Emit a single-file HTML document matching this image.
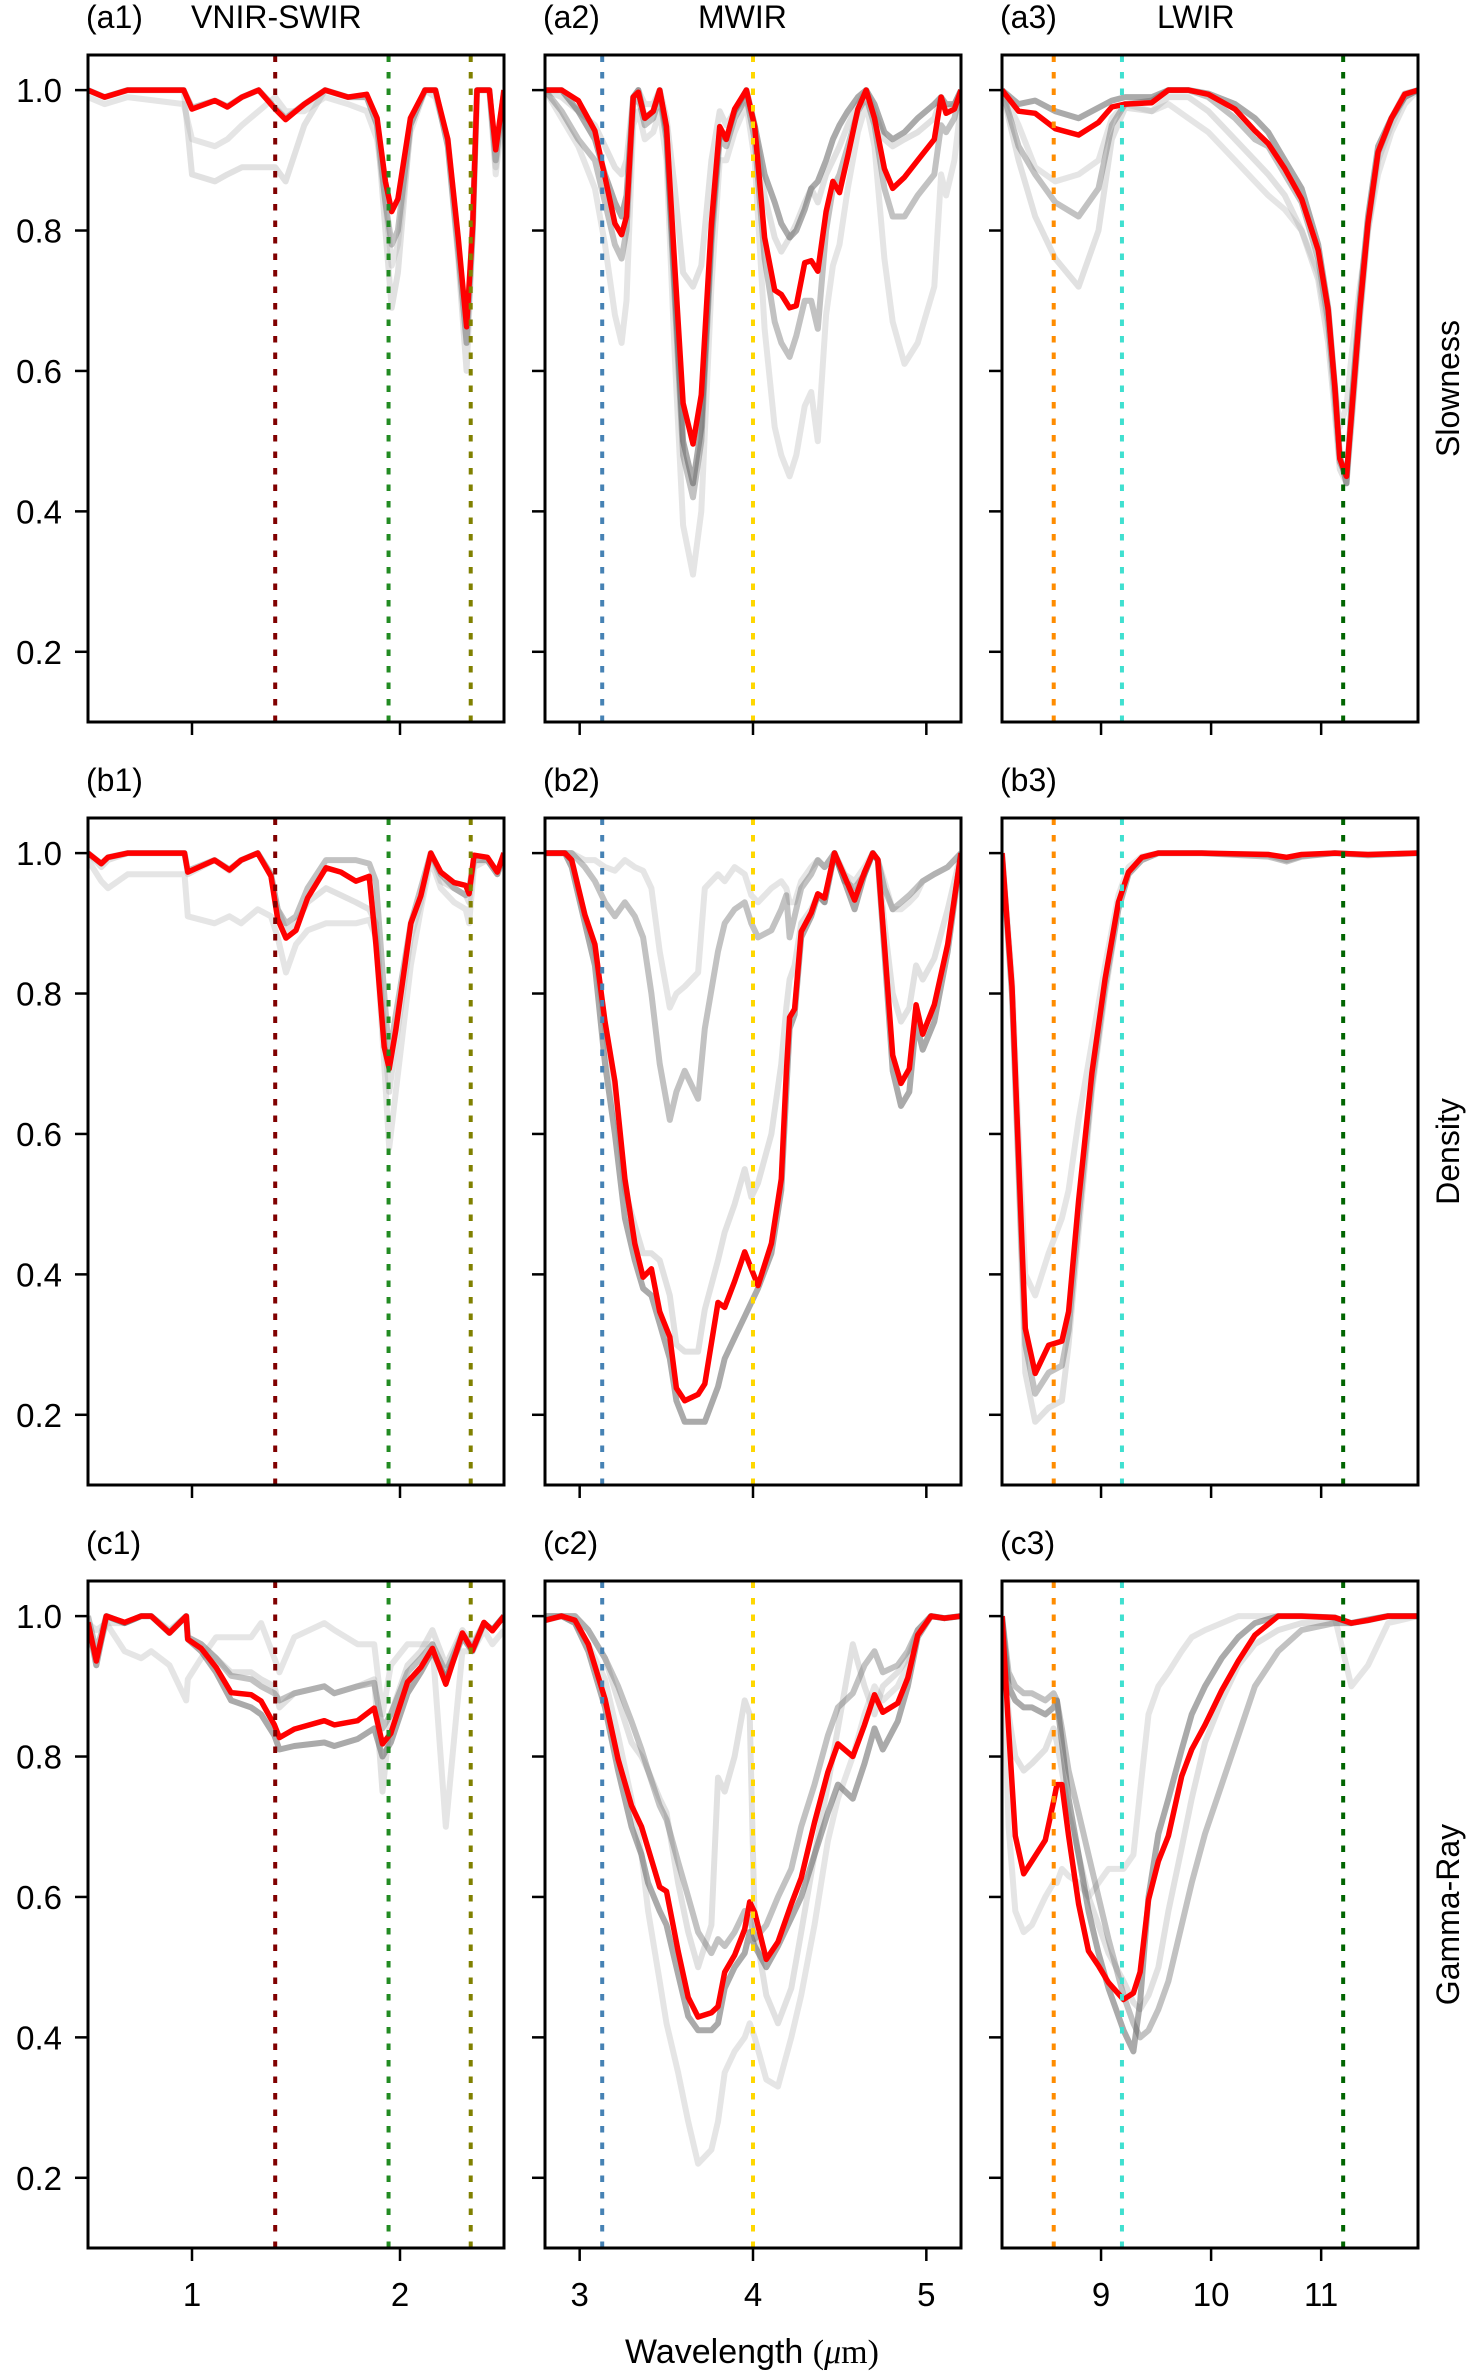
<!DOCTYPE html>
<html><head><meta charset="utf-8">
<style>
html,body{margin:0;padding:0;background:#fff;}
svg{display:block;font-family:"Liberation Sans","DejaVu Sans",sans-serif;}
</style></head>
<body>
<svg id="fig" width="1474" height="2374" viewBox="0 0 1474 2374" xmlns="http://www.w3.org/2000/svg"></svg>
<script>
// ---- data ----
const xA1=[0.5,0.58,0.69,0.96,1.0,1.11,1.17,1.24,1.32,1.4,1.45,1.54,1.64,1.75,1.84,1.89,1.93,1.96,1.99,2.05,2.12,2.17,2.23,2.28,2.32,2.35,2.37,2.43,2.46,2.5];
const redA1=[1.0,0.99,1.0,1.0,0.973,0.985,0.976,0.99,1.0,0.973,0.958,0.98,1.0,0.99,0.994,0.96,0.87,0.827,0.845,0.96,1.0,1.0,0.93,0.79,0.663,0.81,1.0,1.0,0.915,1.0];
const greyA1a=[1.0,0.99,1.0,1.0,0.88,0.87,0.88,0.89,0.89,0.89,0.87,0.95,1.0,0.99,0.99,0.95,0.80,0.69,0.74,0.95,1.0,1.0,0.92,0.76,0.60,0.80,1.0,1.0,0.89,1.0];
const greyA1b=[0.99,0.98,0.99,0.98,0.93,0.92,0.93,0.95,0.97,0.99,0.97,0.97,0.99,0.98,0.97,0.93,0.84,0.75,0.78,0.94,1.0,0.99,0.93,0.78,0.64,0.82,1.0,1.0,0.88,0.98];
const greyA1c=[1.0,0.99,1.0,1.0,0.975,0.985,0.977,0.99,1.0,0.975,0.96,0.98,1.0,0.99,0.99,0.95,0.84,0.78,0.80,0.95,1.0,1.0,0.92,0.77,0.64,0.80,1.0,1.0,0.9,1.0];

const xA2=[2.8,2.896,2.992,3.088,3.146,3.203,3.242,3.27,3.309,3.338,3.376,3.424,3.462,3.501,3.549,3.597,3.654,3.702,3.76,3.808,3.846,3.894,3.962,4.01,4.067,4.125,4.163,4.211,4.25,4.298,4.336,4.374,4.422,4.461,4.499,4.547,4.605,4.653,4.701,4.758,4.806,4.874,4.95,5.046,5.085,5.114,5.162,5.2];
const redA2=[1.0,1.0,0.985,0.942,0.876,0.81,0.794,0.82,0.99,0.997,0.96,0.97,1.0,0.948,0.748,0.554,0.496,0.566,0.81,0.948,0.93,0.973,1.0,0.948,0.79,0.715,0.709,0.69,0.693,0.754,0.757,0.742,0.827,0.87,0.854,0.906,0.973,1.0,0.96,0.888,0.86,0.876,0.9,0.93,0.99,0.967,0.973,1.0];
const greyA2a=[1.0,1.0,0.97,0.93,0.88,0.84,0.82,0.85,0.99,1.0,0.96,0.97,1.0,0.94,0.72,0.50,0.44,0.52,0.80,0.94,0.93,0.97,1.0,0.95,0.88,0.84,0.81,0.79,0.80,0.83,0.86,0.87,0.90,0.93,0.95,0.97,0.99,1.0,0.98,0.94,0.93,0.94,0.96,0.98,0.99,0.98,0.98,1.0];
const greyA2b=[1.0,0.97,0.93,0.90,0.84,0.78,0.76,0.80,0.98,0.99,0.95,0.96,0.99,0.93,0.70,0.48,0.42,0.50,0.78,0.93,0.92,0.96,0.99,0.93,0.76,0.67,0.64,0.62,0.65,0.70,0.70,0.66,0.80,0.86,0.88,0.92,0.97,0.99,0.95,0.86,0.82,0.82,0.85,0.88,0.95,0.94,0.96,1.0];
const greyA2c=[1.0,0.96,0.92,0.86,0.78,0.68,0.64,0.70,0.95,0.97,0.93,0.94,0.97,0.90,0.62,0.38,0.31,0.40,0.72,0.90,0.90,0.94,0.98,0.90,0.66,0.52,0.48,0.45,0.48,0.55,0.57,0.50,0.68,0.75,0.78,0.86,0.94,0.98,0.92,0.76,0.67,0.61,0.64,0.72,0.88,0.85,0.90,0.98];
const greyA2d=[1.0,0.99,0.97,0.95,0.92,0.89,0.88,0.90,0.99,1.0,0.98,0.98,1.0,0.96,0.86,0.74,0.72,0.75,0.90,0.97,0.95,0.97,0.99,0.95,0.85,0.79,0.77,0.79,0.81,0.84,0.86,0.84,0.88,0.9,0.92,0.95,0.98,1.0,0.97,0.93,0.92,0.93,0.94,0.96,0.99,0.97,0.98,1.0];

const xA3=[8.1,8.251,8.402,8.584,8.796,8.977,9.098,9.219,9.461,9.612,9.793,9.975,10.217,10.398,10.519,10.67,10.822,10.973,11.064,11.124,11.169,11.23,11.275,11.351,11.426,11.517,11.638,11.759,11.88];
const redA3=[1.0,0.97,0.967,0.945,0.936,0.954,0.976,0.98,0.982,1.0,1.0,0.994,0.973,0.942,0.924,0.888,0.845,0.772,0.687,0.578,0.475,0.45,0.536,0.687,0.81,0.912,0.96,0.994,1.0];
const greyA3a=[1.0,0.90,0.82,0.76,0.72,0.80,0.93,0.975,0.97,0.99,0.99,0.97,0.93,0.90,0.88,0.85,0.80,0.73,0.64,0.54,0.46,0.44,0.52,0.67,0.80,0.90,0.95,0.99,1.0];
const greyA3b=[1.0,0.92,0.88,0.84,0.82,0.86,0.95,0.98,0.985,1.0,1.0,0.99,0.96,0.93,0.92,0.88,0.84,0.76,0.67,0.56,0.47,0.45,0.53,0.68,0.81,0.91,0.96,0.995,1.0];
const greyA3c=[1.0,0.95,0.89,0.87,0.88,0.90,0.96,0.98,0.97,0.98,0.96,0.94,0.90,0.87,0.85,0.83,0.80,0.74,0.66,0.58,0.52,0.55,0.62,0.72,0.80,0.88,0.94,0.98,1.0];
const greyA3d=[1.0,0.98,0.985,0.97,0.96,0.975,0.985,0.99,0.99,1.0,1.0,0.995,0.98,0.96,0.94,0.9,0.86,0.78,0.69,0.58,0.48,0.44,0.55,0.7,0.82,0.92,0.96,0.99,1.0];

const xB1=[0.5,0.564,0.596,0.692,0.964,0.98,1.108,1.18,1.236,1.316,1.38,1.412,1.452,1.5,1.556,1.644,1.716,1.788,1.852,1.884,1.924,1.948,1.98,2.052,2.1,2.148,2.196,2.26,2.316,2.332,2.356,2.42,2.468,2.5];
const redB1=[1.0,0.985,0.994,1.0,1.0,0.973,0.99,0.976,0.99,1.0,0.967,0.906,0.879,0.89,0.936,0.979,0.973,0.96,0.967,0.87,0.724,0.693,0.748,0.9,0.939,1.0,0.973,0.958,0.954,0.942,0.997,0.994,0.973,1.0];
const greyB1a=[0.99,0.96,0.95,0.97,0.97,0.91,0.9,0.91,0.9,0.92,0.91,0.88,0.83,0.87,0.89,0.9,0.9,0.9,0.905,0.88,0.70,0.58,0.66,0.84,0.92,0.99,0.95,0.93,0.92,0.90,0.98,0.99,0.97,0.99];
const greyB1b=[1.0,0.98,0.99,1.0,1.0,0.97,0.99,0.975,0.99,1.0,0.97,0.92,0.89,0.9,0.93,0.95,0.94,0.93,0.92,0.90,0.74,0.66,0.73,0.88,0.93,1.0,0.96,0.95,0.94,0.93,0.99,0.99,0.97,1.0];
const greyB1c=[1.0,0.985,0.994,1.0,1.0,0.975,0.99,0.977,0.99,1.0,0.97,0.92,0.9,0.91,0.95,0.99,0.99,0.99,0.985,0.96,0.80,0.71,0.77,0.90,0.95,1.0,0.97,0.95,0.94,0.95,0.99,0.99,0.97,1.0];

const xB2=[2.8,2.915,2.954,3.03,3.088,3.146,3.203,3.261,3.318,3.366,3.414,3.462,3.52,3.558,3.606,3.683,3.722,3.798,3.837,3.894,3.952,3.99,4.029,4.106,4.163,4.192,4.211,4.24,4.278,4.336,4.374,4.413,4.47,4.528,4.586,4.643,4.691,4.72,4.758,4.806,4.854,4.902,4.941,4.979,5.046,5.123,5.2];
const redB2=[1.0,1.0,0.99,0.912,0.87,0.76,0.675,0.536,0.444,0.396,0.408,0.347,0.311,0.238,0.22,0.229,0.244,0.36,0.353,0.39,0.432,0.408,0.384,0.444,0.536,0.687,0.766,0.778,0.888,0.915,0.942,0.936,1.0,0.967,0.933,0.973,1.0,0.991,0.87,0.712,0.672,0.693,0.784,0.742,0.784,0.87,1.0];
const greyB2a=[1.0,1.0,0.98,0.90,0.84,0.70,0.60,0.48,0.42,0.38,0.37,0.33,0.28,0.22,0.19,0.19,0.19,0.24,0.28,0.31,0.34,0.36,0.38,0.43,0.52,0.66,0.75,0.77,0.88,0.91,0.94,0.93,1.0,0.96,0.92,0.97,1.0,0.99,0.86,0.69,0.64,0.66,0.76,0.72,0.76,0.86,1.0];
const greyB2b=[1.0,1.0,1.0,0.98,0.96,0.93,0.91,0.93,0.91,0.88,0.80,0.70,0.62,0.66,0.69,0.65,0.75,0.86,0.90,0.92,0.93,0.90,0.88,0.89,0.92,0.94,0.88,0.91,0.95,0.97,0.99,0.98,1.0,0.96,0.95,0.97,1.0,0.99,0.95,0.92,0.93,0.94,0.95,0.96,0.97,0.98,1.0];
const greyB2c=[1.0,1.0,1.0,0.99,0.99,0.98,0.975,0.99,0.98,0.975,0.95,0.86,0.78,0.80,0.81,0.83,0.95,0.97,0.96,0.98,0.97,0.94,0.93,0.95,0.96,0.95,0.93,0.93,0.96,0.98,0.99,0.98,1.0,0.97,0.96,0.98,1.0,0.99,0.96,0.92,0.92,0.93,0.94,0.96,0.97,0.98,1.0];
const greyB2d=[1.0,1.0,0.99,0.91,0.86,0.75,0.66,0.52,0.47,0.43,0.43,0.42,0.37,0.30,0.29,0.29,0.35,0.42,0.46,0.50,0.55,0.51,0.53,0.60,0.70,0.78,0.82,0.84,0.90,0.92,0.94,0.93,1.0,0.97,0.94,0.97,1.0,0.99,0.90,0.80,0.76,0.78,0.84,0.82,0.85,0.92,1.0];

const xB3=[8.1,8.191,8.251,8.312,8.402,8.523,8.644,8.705,8.796,8.917,9.037,9.158,9.249,9.37,9.521,9.914,10.519,10.686,10.822,11.124,11.426,11.88];
const redB3=[1.0,0.81,0.566,0.323,0.259,0.299,0.305,0.347,0.505,0.687,0.821,0.93,0.973,0.994,1.0,1.0,0.998,0.994,0.998,1.0,0.998,1.0];
const greyB3a=[1.0,0.82,0.6,0.40,0.37,0.43,0.48,0.52,0.62,0.73,0.84,0.94,0.98,0.995,1.0,1.0,0.998,0.99,0.996,1.0,0.998,1.0];
const greyB3b=[1.0,0.80,0.55,0.30,0.23,0.26,0.27,0.32,0.48,0.67,0.81,0.92,0.97,0.99,1.0,1.0,0.995,0.988,0.995,1.0,0.997,1.0];
const greyB3c=[1.0,0.80,0.54,0.26,0.19,0.21,0.22,0.30,0.46,0.66,0.80,0.92,0.97,0.99,1.0,1.0,0.997,0.99,0.996,1.0,0.997,1.0];

const xC1=[0.5,0.54,0.588,0.676,0.756,0.804,0.892,0.972,0.98,1.044,1.116,1.188,1.284,1.332,1.396,1.42,1.492,1.636,1.684,1.796,1.876,1.916,1.956,2.036,2.1,2.156,2.22,2.3,2.348,2.404,2.444,2.5];
const redC1=[0.991,0.936,1.0,0.991,1.0,1.0,0.976,1.0,0.967,0.954,0.927,0.891,0.888,0.879,0.845,0.827,0.839,0.851,0.845,0.851,0.869,0.818,0.833,0.906,0.927,0.954,0.903,0.976,0.951,0.991,0.979,1.0];
const greyC1a=[0.99,0.93,1.0,0.99,1.0,1.0,0.976,1.0,0.967,0.95,0.92,0.88,0.87,0.86,0.83,0.81,0.815,0.82,0.815,0.825,0.84,0.80,0.82,0.89,0.92,0.95,0.91,0.97,0.95,0.99,0.98,1.0];
const greyC1b=[0.99,0.94,0.99,0.99,1.0,1.0,0.98,1.0,0.97,0.96,0.94,0.92,0.92,0.91,0.90,0.87,0.89,0.90,0.89,0.90,0.91,0.75,0.86,0.93,0.95,0.98,0.93,0.98,0.96,0.99,0.98,1.0];
const greyC1c=[0.99,0.98,0.99,0.95,0.94,0.95,0.93,0.88,0.91,0.94,0.97,0.97,0.97,0.99,0.94,0.92,0.97,0.99,0.98,0.96,0.96,0.86,0.93,0.96,0.96,0.96,0.70,0.95,0.95,0.98,0.96,0.98];
const greyC1d=[1.0,0.95,1.0,0.99,1.0,1.0,0.977,1.0,0.97,0.96,0.94,0.915,0.91,0.90,0.89,0.88,0.89,0.90,0.89,0.90,0.905,0.84,0.86,0.92,0.94,0.96,0.92,0.975,0.955,0.99,0.98,1.0];

const xC2=[2.8,2.896,2.973,3.05,3.146,3.222,3.299,3.357,3.395,3.462,3.501,3.568,3.626,3.683,3.76,3.798,3.837,3.894,3.952,3.981,4.01,4.077,4.144,4.221,4.278,4.355,4.432,4.49,4.576,4.643,4.701,4.749,4.835,4.893,4.95,5.027,5.104,5.2];
const redC2=[0.994,1.0,0.994,0.96,0.882,0.796,0.73,0.7,0.669,0.614,0.608,0.523,0.457,0.429,0.435,0.444,0.493,0.517,0.554,0.593,0.578,0.511,0.536,0.59,0.627,0.706,0.778,0.818,0.8,0.845,0.888,0.863,0.876,0.912,0.973,1.0,0.997,1.0];
const greyC2a=[0.994,1.0,0.99,0.95,0.87,0.78,0.70,0.66,0.62,0.58,0.56,0.49,0.43,0.41,0.41,0.42,0.47,0.50,0.52,0.55,0.53,0.50,0.53,0.57,0.60,0.66,0.72,0.76,0.74,0.79,0.84,0.81,0.85,0.90,0.97,1.0,0.997,1.0];
const greyC2b=[1.0,1.0,1.0,0.98,0.94,0.90,0.85,0.81,0.78,0.73,0.71,0.65,0.60,0.55,0.52,0.54,0.53,0.55,0.58,0.57,0.54,0.56,0.60,0.64,0.70,0.76,0.83,0.87,0.89,0.93,0.95,0.92,0.93,0.95,0.98,1.0,0.997,1.0];
const greyC2c=[1.0,1.0,0.99,0.96,0.91,0.83,0.74,0.66,0.58,0.48,0.42,0.35,0.28,0.22,0.24,0.28,0.35,0.38,0.40,0.42,0.40,0.34,0.33,0.40,0.46,0.56,0.68,0.74,0.80,0.86,0.90,0.88,0.90,0.93,0.98,1.0,0.997,1.0];
const greyC2d=[1.0,1.0,1.0,0.98,0.94,0.88,0.82,0.80,0.78,0.74,0.72,0.62,0.55,0.50,0.56,0.77,0.75,0.80,0.88,0.86,0.56,0.46,0.42,0.47,0.55,0.66,0.76,0.84,0.96,0.90,0.86,0.90,0.92,0.94,0.98,1.0,0.997,1.0];

const xC3=[8.1,8.16,8.221,8.297,8.372,8.493,8.569,8.599,8.644,8.705,8.796,8.886,8.977,9.068,9.204,9.294,9.355,9.431,9.521,9.612,9.733,9.824,9.945,10.096,10.247,10.398,10.61,10.822,11.124,11.275,11.426,11.608,11.88];
const redC3=[1.0,0.839,0.687,0.633,0.651,0.681,0.736,0.76,0.76,0.687,0.59,0.523,0.502,0.478,0.454,0.463,0.493,0.596,0.651,0.687,0.772,0.81,0.845,0.894,0.936,0.973,1.0,1.0,0.998,0.99,0.994,1.0,1.0];
const greyC3a=[1.0,0.92,0.90,0.89,0.89,0.88,0.89,0.88,0.84,0.78,0.72,0.66,0.60,0.54,0.46,0.42,0.40,0.41,0.44,0.48,0.56,0.62,0.69,0.76,0.83,0.90,0.95,0.98,0.99,0.99,0.995,1.0,1.0];
const greyC3b=[1.0,0.90,0.88,0.87,0.87,0.86,0.87,0.88,0.82,0.74,0.66,0.58,0.52,0.47,0.41,0.38,0.45,0.60,0.69,0.74,0.81,0.86,0.90,0.94,0.97,0.99,1.0,1.0,0.998,0.99,0.994,1.0,1.0];
const greyC3c=[1.0,0.70,0.58,0.55,0.56,0.60,0.62,0.62,0.64,0.63,0.62,0.60,0.62,0.64,0.64,0.66,0.75,0.86,0.90,0.92,0.95,0.97,0.98,0.99,1.0,1.0,1.0,1.0,0.998,0.90,0.93,0.99,1.0];
const greyC3d=[1.0,0.86,0.80,0.78,0.79,0.81,0.84,0.82,0.78,0.72,0.66,0.60,0.56,0.52,0.48,0.45,0.44,0.46,0.50,0.58,0.67,0.74,0.82,0.88,0.93,0.96,0.98,0.99,0.99,0.99,0.995,1.0,1.0];

const yTicks=[0.2,0.4,0.6,0.8,1.0];
const yTickLabels=["0.2","0.4","0.6","0.8","1.0"];
const xTicks1=[1,2], xTicks2=[3,4,5], xTicks3=[9,10,11];
const markers1=[1.4,1.945,2.34], markers2=[3.13,4.0], markers3=[8.57,9.19,11.2];
const rowLabels=["Slowness","Density","Gamma-Ray"];

// ---- layout ----
const NS="http://www.w3.org/2000/svg";
const svg=document.getElementById('fig');
const colX=[88,545,1002], PW=416;
const rowY=[55,818,1581], PH=667;
const xlims=[[0.5,2.5],[2.8,5.2],[8.1,11.88]];
const yMin=0.1, yMax=1.05;
const colTicks=[xTicks1,xTicks2,xTicks3];
const colMarkers=[markers1,markers2,markers3];
const markerColors=[["#800000","#228b22","#808000"],["#4682b4","#ffd700"],["#ff8c00","#40e0d0","#006400"]];
const panels=[
 [{x:xA1,red:redA1,greys:[greyA1b,greyA1a,greyA1c]},{x:xA2,red:redA2,greys:[greyA2c,greyA2d,greyA2b,greyA2a]},{x:xA3,red:redA3,greys:[greyA3c,greyA3a,greyA3b,greyA3d]}],
 [{x:xB1,red:redB1,greys:[greyB1a,greyB1b,greyB1c]},{x:xB2,red:redB2,greys:[greyB2c,greyB2d,greyB2b,greyB2a]},{x:xB3,red:redB3,greys:[greyB3a,greyB3c,greyB3b]}],
 [{x:xC1,red:redC1,greys:[greyC1c,greyC1b,greyC1d,greyC1a]},{x:xC2,red:redC2,greys:[greyC2c,greyC2d,greyC2b,greyC2a]},{x:xC3,red:redC3,greys:[greyC3c,greyC3d,greyC3a,greyC3b]}]
];
const greyStyles=[["#aaa",0.3],["#aaa",0.35],["#666",0.4],["#555",0.5]];
const titles=[["(a1)","VNIR-SWIR"],["(a2)","MWIR"],["(a3)","LWIR"],["(b1)",""],["(b2)",""],["(b3)",""],["(c1)",""],["(c2)",""],["(c3)",""]];
const titleX=[191,698,1157];

function el(tag,attrs,parent){const e=document.createElementNS(NS,tag);for(const k in attrs)e.setAttribute(k,attrs[k]);(parent||svg).appendChild(e);return e;}

for(let r=0;r<3;r++){
 for(let c=0;c<3;c++){
  const x0=colX[c], y0=rowY[r];
  const [xa,xb]=xlims[c];
  const sx=v=>x0+(v-xa)/(xb-xa)*PW;
  const sy=v=>y0+(yMax-v)/(yMax-yMin)*PH;
  const g=el('g',{});
  
  
  const clipId='clip'+r+c;
  const cp=el('clipPath',{id:clipId},g);
  el('rect',{x:x0,y:y0,width:PW,height:PH},cp);
  const plot=el('g',{'clip-path':'url(#'+clipId+')'},g);
  const p=panels[r][c];
  p.greys.forEach((ser,i)=>{
    const st=greyStyles[i%greyStyles.length];
    const d=ser.map((v,k)=>(k?'L':'M')+sx(p.x[k]).toFixed(1)+','+sy(v).toFixed(1)).join('');
    const path=el('path',{d:d,fill:'none',stroke:st[0],'stroke-opacity':st[1],'stroke-width':6,'stroke-linejoin':'round'},plot);
    
    
  });
  const dr=p.red.map((v,k)=>(k?'L':'M')+sx(p.x[k]).toFixed(1)+','+sy(v).toFixed(1)).join('');
  const rp=el('path',{d:dr,fill:'none',stroke:'#ff0000','stroke-width':5.5,'stroke-linejoin':'round'},plot);
  
  
  colMarkers[c].forEach((m,i)=>{
    const ln=el('line',{x1:sx(m),x2:sx(m),y1:y0+PH,y2:y0,stroke:markerColors[c][i],'stroke-width':4,'stroke-dasharray':'6.5 10'},plot);
    
    
  });
  const fr=el('rect',{x:x0,y:y0,width:PW,height:PH,fill:'none',stroke:'#000','stroke-width':3},g);
  
  
  yTicks.forEach((t,i)=>{
    el('line',{x1:x0-13,x2:x0,y1:sy(t),y2:sy(t),stroke:'#000','stroke-width':2.5},g);
    if(c===0){
      const tx=el('text',{x:x0-26,y:sy(t)+12,'text-anchor':'end','font-size':33,fill:'#000'},g);
      tx.textContent=yTickLabels[i];
      
      
    }
  });
  colTicks[c].forEach(t=>{
    el('line',{x1:sx(t),x2:sx(t),y1:y0+PH,y2:y0+PH+13,stroke:'#000','stroke-width':2.5},g);
    if(r===2){
      const tx=el('text',{x:sx(t),y:y0+PH+58,'text-anchor':'middle','font-size':33,fill:'#000'},g);
      tx.textContent=String(t);
      
      
    }
  });
  const tt=titles[r*3+c];
  const t1=el('text',{x:x0-2,y:y0-27,'font-size':32,fill:'#000'},g);
  t1.textContent=tt[0];
  
  
  if(tt[1]){
    const t2=el('text',{x:titleX[c],y:y0-27,'font-size':32,fill:'#000'},g);
    t2.textContent=tt[1];
    
    
  }
 }
 const cy=rowY[r]+PH/2;
 const rl=el('text',{x:1459,y:cy,'text-anchor':'middle','font-size':32,fill:'#000',transform:'rotate(-90 1459 '+cy+')'});
 rl.textContent=rowLabels[r];
 
 
}
const xl=el('text',{x:752,y:2363,'text-anchor':'middle','font-size':34,fill:'#000'});


xl.innerHTML='Wavelength <tspan font-family="Liberation Serif, serif">(</tspan><tspan font-family="Liberation Serif, serif" font-style="italic">μ</tspan><tspan font-family="Liberation Serif, serif">m)</tspan>';
</script>
</body></html>
